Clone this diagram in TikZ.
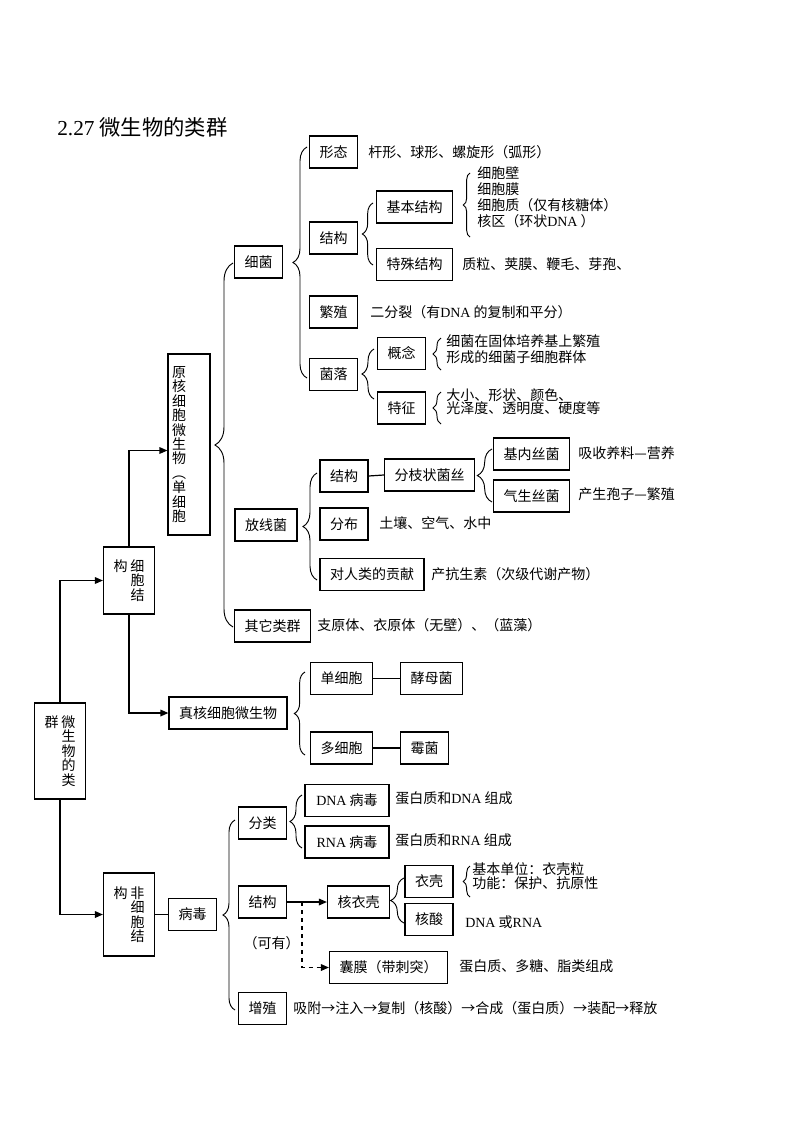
\documentclass[tikz,border=0pt]{standalone}
\usepackage{fontspec}
\setmainfont{Noto Sans CJK SC}
\newfontfamily\en{Liberation Serif}
\usepackage{tikz}
\usetikzlibrary{arrows.meta,calc,decorations.pathreplacing}
\newcommand{\wuhao}{\fontsize{10.5pt}{12pt}\selectfont}

\begin{document}
\begin{tikzpicture}[x=0.75pt, y=-0.75pt,
    every node/.style={font=\wuhao},
    box/.style={draw, line width=0.9pt, minimum height=24pt, inner xsep=7.5pt, inner ysep=0pt},
    vbox/.style={box, minimum width=31.5pt, align=left, font=\fontsize{10.5pt}{10.8pt}\selectfont},
    txt/.style={anchor=west, inner sep=0pt, align=left},
    link/.style={line width=0.9pt},
    arr/.style={line width=0.9pt, -{Triangle[length=6pt,width=5pt]}},
    brc/.style={decorate, line width=0.7pt, decoration={brace, amplitude=#1}}]

    \useasboundingbox (0,0) rectangle (800,1132);

    % Title
    \node[txt, font=\fontsize{16pt}{18pt}\selectfont] (title) at (57,127) {{\en 2.27} 微生物的类群};

    % Left column (vertical text boxes)
    \node[vbox, minimum height=72pt] (qun) at (60,751) {群\hspace{2.25pt}微\\\phantom{群}\hspace{2.25pt}生\\\phantom{群}\hspace{2.25pt}物\\\phantom{群}\hspace{2.25pt}的\\\phantom{群}\hspace{2.25pt}类};
    \node[vbox, minimum height=50.25pt] (gouxibao) at (129,580.5) {构\hspace{2.25pt}细\\\phantom{构}\hspace{2.25pt}胞\\\phantom{构}\hspace{2.25pt}结};
    \node[vbox, minimum height=62.25pt] (goufei) at (129,914.5) {构\hspace{2.25pt}非\\\phantom{构}\hspace{2.25pt}细\\\phantom{构}\hspace{2.25pt}胞\\\phantom{构}\hspace{2.25pt}结};
    \node[vbox, minimum height=135.75pt, text width=25.5pt, inner xsep=3pt] (yuanhe) at (189,444.5) {原\\核\\细\\胞\\微\\生\\物\\︵\\单\\细\\胞};

    % Bacteria
    \node[box] (xijun) at (258.5,262) {细菌};
    \node[box] (xingtai) at (333.5,152) {形态};
    \node[box] (jiegouA) at (333.5,238) {结构};
    \node[box] (fanzhi) at (333.5,312) {繁殖};
    \node[box] (junluo) at (333.5,374.5) {菌落};
    \node[box] (jiben) at (414.5,207) {基本结构};
    \node[box] (teshu) at (414.5,264.5) {特殊结构};
    \node[box] (gainian) at (401.5,353.5) {概念};
    \node[box] (tezheng) at (401.5,408) {特征};

    \node[txt] (xingtaiT) at (368,152) {杆形、球形、螺旋形（弧形）};
    \node[txt] (jibenT) at (477,197) {细胞壁\\细胞膜\\细胞质（仅有核糖体）\\核区（环状{\en DNA} ）};
    \node[txt] (teshuT) at (462,264) {质粒、荚膜、鞭毛、芽孢、};
    \node[txt] (fanzhiT) at (370,312) {二分裂（有{\en DNA} 的复制和平分）};
    \node[txt] (gainianT) at (446,349) {细菌在固体培养基上繁殖\\形成的细菌子细胞群体};
    \node[txt, font=\fontsize{10.5pt}{10pt}\selectfont] (tezhengT) at (446,402) {大小、形状、颜色、\\光泽度、透明度、硬度等};

    % Actinomycetes
    \node[box] (fangxian) at (266,525) {放线菌};
    \node[box] (jiegouB) at (344,476) {结构};
    \node[box] (fenzhi) at (429.5,475) {分枝状菌丝};
    \node[box] (jinei) at (531.5,454) {基内丝菌};
    \node[box] (qisheng) at (531.5,496) {气生丝菌};
    \node[box] (fenbu) at (344,524) {分布};
    \node[box] (gongxian) at (372,574.5) {对人类的贡献};
    \node[box] (qita) at (272.5,626) {其它类群};

    \node[txt] (jineiT) at (578,453) {吸收养料—营养};
    \node[txt] (qishengT) at (578,494) {产生孢子—繁殖};
    \node[txt] (fenbuT) at (379,523) {土壤、空气、水中};
    \node[txt] (gongxianT) at (431,574) {产抗生素（次级代谢产物）};
    \node[txt] (qitaT) at (317,625) {支原体、衣原体（无壁）、（蓝藻）};

    % Eukaryotes
    \node[box] (zhenhe) at (228,713) {真核细胞微生物};
    \node[box] (dan) at (341.5,678.5) {单细胞};
    \node[box] (jiaomu) at (431.5,678.5) {酵母菌};
    \node[box] (duo) at (341.5,748) {多细胞};
    \node[box] (meijun) at (424.5,748) {霉菌};

    % Viruses
    \node[box] (bingdu) at (192.5,914.5) {病毒};
    \node[box] (fenlei) at (262.5,823) {分类};
    \node[box, minimum width=63pt] (dnabd) at (347,800.5) {{\en DNA} 病毒};
    \node[box, minimum width=63pt] (rnabd) at (347,842) {{\en RNA} 病毒};
    \node[box] (jiegouC) at (262.5,902) {结构};
    \node[box] (heyike) at (358.5,902) {核衣壳};
    \node[box] (yike) at (429,881.5) {衣壳};
    \node[box] (hesuan) at (429,919.5) {核酸};
    \node[box] (nangmo) at (388.5,967.5) {囊膜（带刺突）};
    \node[box] (zengzhi) at (262.5,1008.5) {增殖};

    \node[txt] (dnaT) at (395,798) {蛋白质和{\en DNA} 组成};
    \node[txt] (rnaT) at (395,840) {蛋白质和{\en RNA} 组成};
    \node[txt, font=\fontsize{10.5pt}{10.5pt}\selectfont] (yikeT) at (472,876) {基本单位：衣壳粒\\功能：保护、抗原性};
    \node[txt] (hesuanT) at (465,922) {{\en DNA} 或{\en RNA}};
    \node[txt] (nangmoT) at (459,966) {蛋白质、多糖、脂类组成};
    \node[txt] (zengzhiT) at (293,1008) {吸附→注入→复制（核酸）→合成（蛋白质）→装配→释放};
    \node[anchor=east, inner sep=0pt] (keyou) at (300,943) {（可有）};

    % Braces
    \draw[brc=10.5pt] (307,378) -- (307,147);
    \draw[brc=8pt] (373,265) -- (373,203);
    \draw[brc=5pt] (470,237) -- (470,173);
    \draw[brc=9pt] (374,399) -- (374,349);
    \draw[brc=6pt] (441,370) -- (441,338);
    \draw[brc=6pt] (441,424) -- (441,392);
    \draw[brc=13.5pt] (233,627) -- (233,263);
    \draw[brc=10.5pt] (317,580) -- (317,473);
    \draw[brc=11pt] (492,502) -- (492,449);
    \draw[brc=8pt] (305,755) -- (305,672);
    \draw[brc=9pt] (235,1010) -- (235,820);
    \draw[brc=9pt] (302,848) -- (302,795);
    \draw[brc=10pt] (404,923) -- (404,878);
    \draw[brc=5pt] (470,897) -- (470,866);

    % Connectors
    \draw[arr] (qun.north) |- (gouxibao.west);
    \draw[arr] (qun.south) |- (goufei.west);
    \draw[arr] (gouxibao.north) |- ($(yuanhe.west)+(0,6)$);
    \draw[arr] (gouxibao.south) |- (zhenhe.west);
    \draw[link] (jiegouB.east) -- (fenzhi.west);
    \draw[link] (dan.east) -- (jiaomu.west);
    \draw[link] (duo.east) -- (meijun.west);
    \draw[link] (goufei.east) -- (bingdu.west);
    \draw[arr] (jiegouC.east) -- (heyike.west);
    \coordinate (fork) at ($(jiegouC.east)!0.375!(heyike.west)$);
    \draw[arr, dashed] (fork) |- (nangmo.west);
\end{tikzpicture}
\end{document}
